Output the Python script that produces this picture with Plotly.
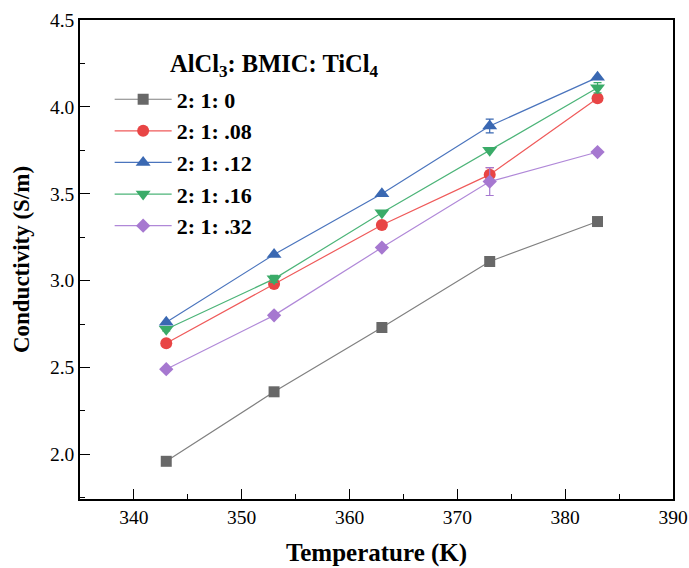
import plotly.graph_objects as go

# Temperature points (K)
temperature = [343, 353, 363, 373, 383]

# Conductivity (S/m) for each AlCl3 : BMIC : TiCl4 molar ratio
series_names = ["2: 1: 0", "2: 1: .08", "2: 1: .12", "2: 1: .16", "2: 1: .32"]
cond_0 = [1.96, 2.36, 2.73, 3.11, 3.34]
cond_08 = [2.64, 2.98, 3.32, 3.61, 4.05]
cond_12 = [2.76, 3.15, 3.50, 3.89, 4.17]
cond_16 = [2.72, 3.01, 3.39, 3.75, 4.11]
cond_32 = [2.49, 2.80, 3.19, 3.57, 3.74]

# Standard deviations
err_0 = [0.0, 0.0, 0.0, 0.0, 0.0]
err_08 = [0.0, 0.0, 0.0, 0.04, 0.0]
err_12 = [0.0, 0.0, 0.0, 0.04, 0.0]
err_16 = [0.01, 0.02, 0.0, 0.0, 0.03]
err_32 = [0.0, 0.0, 0.0, 0.08, 0.0]

values = [cond_0, cond_08, cond_12, cond_16, cond_32]
errors = [err_0, err_08, err_12, err_16, err_32]
colors = ["#686868", "#e84545", "#3a68b2", "#3aab68", "#a678d0"]
line_colors = ["#808080", "#ef5a5a", "#4a74bd", "#4cb478", "#b088d8"]
symbols = ["square", "circle", "triangle-up", "triangle-down", "diamond"]
sizes = [11, 12, 13, 13, 11]

FONT = "Liberation Serif"

fig = go.Figure()
for name, y, e, c, lc, s, sz in zip(series_names, values, errors, colors,
                                     line_colors, symbols, sizes):
    fig.add_trace(go.Scatter(
        x=temperature, y=y, name=f"<b>{name}</b>", mode="lines+markers",
        line=dict(color=lc, width=1.2),
        marker=dict(symbol=s, size=sz, color=c, line=dict(width=0)),
        error_y=dict(type="data", array=e, visible=True, color=c,
                     thickness=1.2, width=4),
    ))

axis_common = dict(
    showline=True, linecolor="black", linewidth=1.6, mirror=True,
    ticks="inside", ticklen=10, tickwidth=1.4, tickcolor="black",
    showgrid=False, zeroline=False, automargin=False,
    tickfont=dict(family=FONT, size=19.5, color="black"),
)

fig.update_xaxes(
    range=[335, 390], tick0=340, dtick=10,
    minor=dict(ticks="inside", ticklen=5, tickwidth=1.2, dtick=5,
               tickcolor="black", showgrid=False),
    title=dict(text="<b>Temperature (K)</b>",
               font=dict(family=FONT, size=25, color="black"), standoff=16),
    **axis_common,
)
fig.update_yaxes(
    range=[1.743, 4.5], tick0=2.0, dtick=0.5, tickformat=".1f",
    minor=dict(ticks="inside", ticklen=5, tickwidth=1.2, dtick=0.25,
               tick0=2.0, tickcolor="black", showgrid=False),
    title=dict(text="<b>Conductivity (S/m)</b>",
               font=dict(family=FONT, size=23, color="black"), standoff=14),
    **axis_common,
)

fig.add_annotation(
    text="<b>AlCl<sub>3</sub>: BMIC: TiCl<sub>4</sub></b>",
    xref="paper", yref="paper", x=0.148, y=0.906,
    xanchor="left", yanchor="middle", showarrow=False,
    font=dict(family=FONT, size=24.5, color="black"),
)

fig.update_layout(
    width=689, height=568,
    margin=dict(l=80, r=16, t=20, b=69, autoexpand=False),
    plot_bgcolor="white", paper_bgcolor="white",
    font=dict(family=FONT, color="black"),
    legend=dict(
        x=0.05, y=0.878, xanchor="left", yanchor="top",
        bgcolor="rgba(0,0,0,0)", borderwidth=0,
        font=dict(family=FONT, size=22, color="black"),
        itemwidth=57, tracegroupgap=0,
    ),
    showlegend=True,
)

fig.write_html("out.html")
